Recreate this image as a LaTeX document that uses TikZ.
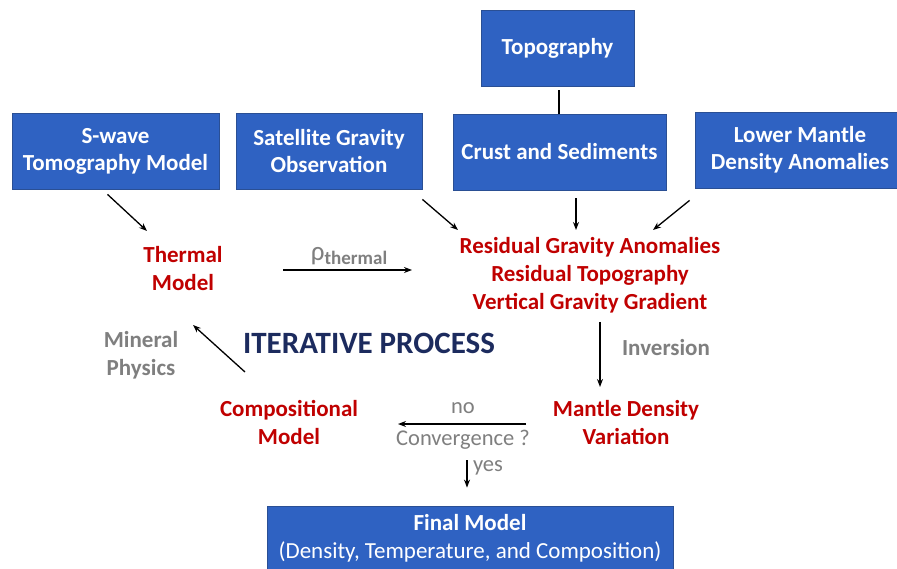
\documentclass[tikz,border=0pt]{standalone}
\usepackage{fontspec}
\setmainfont{Carlito}
\usepackage{xcolor}
\usetikzlibrary{arrows.meta, positioning, calc}

\definecolor{boxblue}{HTML}{2F62C2}
\definecolor{boxedge}{HTML}{2A4F94}
\definecolor{modelred}{HTML}{C00000}
\definecolor{notegray}{HTML}{7F7F7F}
\definecolor{titlenavy}{HTML}{1C2B5E}

\begin{document}
\begin{tikzpicture}[
    x=1pt, y=-1pt,
    source/.style={rectangle, draw=boxedge, line width=0.8pt, fill=boxblue, text=white, align=center, minimum height=76pt, inner sep=2pt, font=\fontsize{23}{27}\selectfont\bfseries},
    model/.style={text=modelred, align=center, inner sep=1pt, font=\fontsize{23}{28}\selectfont\bfseries},
    note/.style={text=notegray, align=center, inner sep=1pt, font=\fontsize{23}{28}\selectfont\bfseries},
    plain/.style={text=notegray, align=center, inner sep=1pt, font=\fontsize{22.5}{28}\selectfont},
    arrow/.style={-{Stealth[length=8pt,width=6pt]}, line width=1.3pt}
]
\path[use as bounding box, fill=white] (0,0) rectangle (897,569);

% Input data
\node[source, minimum width=153pt] (topo) at (557.5,48) {Topography};
\node[source, minimum width=213pt] (crust) at (559.5,152) {Crust and Sediments};
\node[source, minimum width=207pt] (swave) at (115.5,151) {S-wave\\Tomography Model};
\node[source, minimum width=186pt] (satellite) at (329,151) {Satellite Gravity\\Observation};
\node[source, minimum width=210pt] (lower) at (800,150) {Lower Mantle\\Density Anomalies};

% Models
\node[model] (thermal) at (183,269) {Thermal\\Model};
\node[model] (residual) at (590,275) {Residual Gravity Anomalies\\Residual Topography\\Vertical Gravity Gradient};
\node[model] (mantle) at (626,423) {Mantle Density\\Variation};
\node[model] (comp) at (289,422) {Compositional\\Model};

% Iteration labels
\node[note] (mineral) at (141,355) {Mineral\\Physics};
\node[note] (inversion) at (666,348) {Inversion};
\node[text=titlenavy, font=\fontsize{31}{31}\selectfont\bfseries] (iter) at (369,343) {ITERATIVE PROCESS};
\node[plain] (no) at (463,408) {no};
\node[plain] (conv) at (463,440) {Convergence ?};
\node[plain] (yes) at (488,468) {yes};
\node[text=notegray, inner sep=1pt] (rho) at (349,256) {\raisebox{4pt}{\fontsize{27}{27}\selectfont ρ}{\fontsize{19}{19}\selectfont\bfseries thermal}};

% Result
\node[source, minimum width=406pt, minimum height=64pt, font=\fontsize{23}{28}\selectfont] (final) at (470,538) {\textbf{Final Model}\\(Density, Temperature, and Composition)};

% Connections
\draw[line width=1.3pt] ($(topo.south)+(1.5,4)$) -- ($(crust.north)+(-0.5,0)$);
\draw[arrow] ($(swave.south)+(-8,5)$) -- ($(thermal)+(-36,-38)$);
\draw[arrow] ($(satellite.south east)+(0,10)$) -- ($(residual)+(-132,-45)$);
\draw[arrow] ($(crust.south)+(16.5,8)$) -- ($(residual)+(-14,-45)$);
\draw[arrow] ($(lower.south west)+(-5,12)$) -- ($(residual)+(63,-45)$);
\draw[arrow] ($(thermal)+(100,1)$) -- ($(residual)+(-178,-5)$);
\draw[arrow] ($(residual)+(10,47)$) -- ($(mantle)+(-26,-36)$);
\draw[arrow] ($(mantle)+(-100,1)$) -- ($(comp)+(109,2)$);
\draw[arrow] ($(comp)+(-44,-50)$) -- ($(thermal)+(10,56)$);
\draw[arrow] ($(conv)+(4,20)$) -- ($(final.north)+(-3,-18)$);

\end{tikzpicture}
\end{document}
